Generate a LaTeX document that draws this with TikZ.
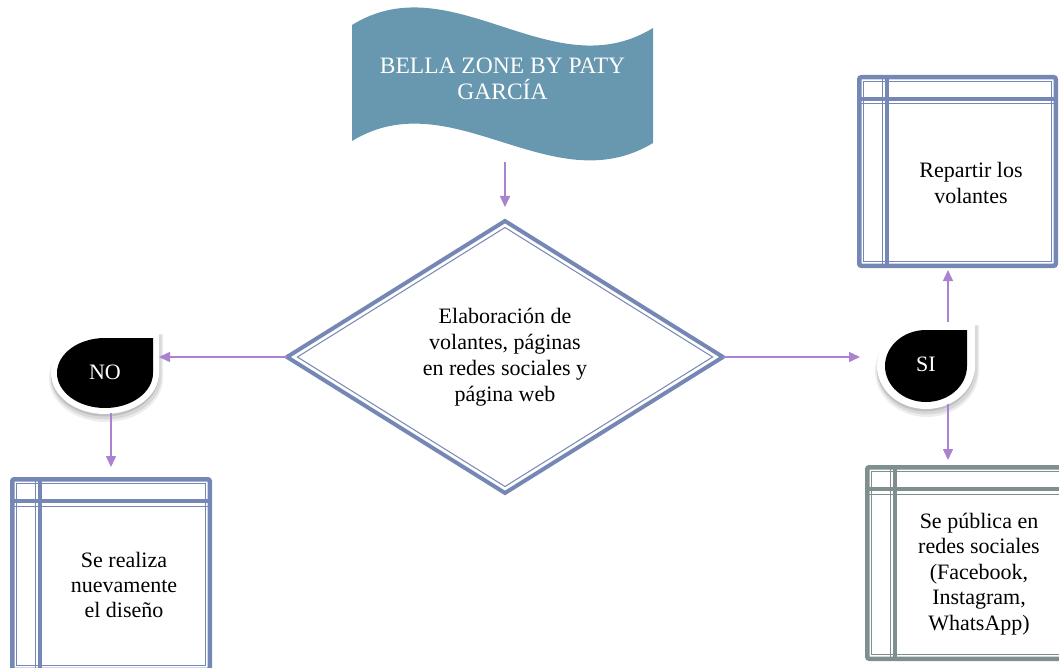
\documentclass[tikz,border=0pt]{standalone}
\usepackage{fontspec}
\setmainfont{Liberation Serif}
\usetikzlibrary{arrows.meta,calc,shapes.geometric}
\definecolor{boxblue}{RGB}{117,135,180}
\definecolor{boxgray}{RGB}{127,142,142}
\definecolor{wavecol}{RGB}{104,152,176}
\definecolor{arrcol}{RGB}{171,130,208}
\newcommand\mystorebox[2]{%
  \draw[#2, line width=4.5pt, rounded corners=2pt] ($(#1.north west)+(2.25,2.25)$) rectangle ($(#1.south east)+(-2.25,-2.25)$);
  \draw[#2, line width=1pt] ($(#1.north west)+(6.5,6.5)$) rectangle ($(#1.south east)+(-6.5,-6.5)$);
  \draw[#2, line width=1pt] ($(#1.north west)+(25,2)$) -- ($(#1.south west)+(25,-2)$);
  \draw[#2, line width=3.5pt] ($(#1.north west)+(30,2)$) -- ($(#1.south west)+(30,-2)$);
  \draw[#2, line width=3.5pt] ($(#1.north west)+(2,24)$) -- ($(#1.north east)+(-2,24)$);
  \draw[#2, line width=1pt] ($(#1.north west)+(2,29)$) -- ($(#1.north east)+(-2,29)$);
}
\begin{document}
\begin{tikzpicture}[x=1pt,y=-1pt,
  txt/.style={font=\fontsize{22pt}{26pt}\selectfont, align=center, inner sep=0pt},
  arr/.style={draw=arrcol, line width=1.5pt, -{Triangle[length=11pt,width=10pt]}},
  hidden/.style={draw=none, inner sep=0pt, outer sep=0pt, rectangle},
  tear/.style n args={4}{insert path={
    ({#1},{(#2)-(#4)}) -- ({(#1)+(#3)},{(#2)-(#4)}) -- ({(#1)+(#3)},{#2})
    .. controls ({(#1)+(#3)},{(#2)+0.5523*(#4)}) and ({(#1)+0.5523*(#3)},{(#2)+(#4)}) .. ({#1},{(#2)+(#4)})
    .. controls ({(#1)-0.5523*(#3)},{(#2)+(#4)}) and ({(#1)-(#3)},{(#2)+0.5523*(#4)}) .. ({(#1)-(#3)},{#2})
    .. controls ({(#1)-(#3)},{(#2)-0.5523*(#4)}) and ({(#1)-0.5523*(#3)},{(#2)-(#4)}) .. ({#1},{(#2)-(#4)}) -- cycle}}
]
\useasboundingbox (0,0) rectangle (1059,668);
\clip (0,0) rectangle (1059,668);

% wave banner
\fill[wavecol] (352,25) .. controls (452,-37) and (552,90) .. (653,28) -- (653,143) .. controls (552,204) and (452,80) .. (352,141) -- cycle;
\node[hidden, txt, font=\fontsize{23.5pt}{26pt}\selectfont, text=white, minimum width=301pt, minimum height=140pt] (wave) at (502.5,79) {BELLA ZONE BY PATY\\GARCÍA};

% decision diamond
\node[diamond, aspect=1.6, draw=boxblue, line width=4pt, inner sep=0pt, outer sep=0pt,
      minimum width=436pt, minimum height=272pt, txt] (dia) at (505,357)
      {Elaboración de\\volantes, páginas\\en redes sociales y\\página web};
\draw[boxblue, line width=1pt] ($(dia.west)+(10.4,0)$) -- ($(dia.north)+(0,6.5)$) -- ($(dia.east)+(-10.4,0)$) -- ($(dia.south)+(0,-6.5)$) -- cycle;

% NO teardrop
\fill[black, opacity=0.07, tear={106}{378}{57}{44}];
\fill[black, opacity=0.09, tear={106}{377}{55.5}{42.5}];
\fill[black, opacity=0.11, tear={105}{375.5}{54}{41}];
\fill[white, tear={105}{373}{54}{41}];
\fill[black, tear={105}{373}{48}{35}];
\node[hidden, txt, text=white, minimum width=108pt, minimum height=82pt] (no) at (105,372) {NO};

% SI teardrop
\fill[black, opacity=0.07, tear={927}{371}{52}{46}];
\fill[black, opacity=0.09, tear={927}{370}{50.5}{44.5}];
\fill[black, opacity=0.11, tear={926}{368.5}{49}{43}];
\fill[white, tear={926}{366}{49}{43}];
\fill[black, tear={926}{366}{41}{36}];
\node[hidden, txt, text=white, minimum width=98pt, minimum height=86pt] (si) at (926,364.5) {SI};

% storage boxes
\node[hidden, minimum width=201pt, minimum height=193pt] (b1) at (957.5,171.5) {};
\mystorebox{b1}{boxblue}
\node[txt] (b1t) at (971,183) {Repartir los\\volantes};

\node[hidden, minimum width=202pt, minimum height=195pt] (b2) at (111,574.5) {};
\mystorebox{b2}{boxblue}
\node[txt, font=\fontsize{22pt}{25pt}\selectfont] (b2t) at (124,584.5) {Se realiza\\nuevamente\\el diseño};

\node[hidden, minimum width=203pt, minimum height=196pt] (b3) at (966.5,563) {};
\mystorebox{b3}{boxgray}
\node[txt, font=\fontsize{22pt}{25.5pt}\selectfont] (b3t) at (979,574) {Se pública en\\redes sociales\\(Facebook,\\Instagram,\\WhatsApp)};

% connectors
\coordinate (sx) at (948,366);
\draw[arr, shorten <=13pt, shorten >=14pt] (wave.south -| dia.north) -- (dia.north);
\draw[arr] (dia.west) -- (no.east |- dia.west);
\draw[arr, shorten >=17pt] (dia.east) -- (si.west |- dia.east);
\draw[arr, shorten >=10pt] (no.south -| b2.north) -- (b2.north);
\draw[arr, shorten >=2pt] (si.north -| sx) -- (b1.south -| sx);
\draw[arr, shorten <=-4pt, shorten >=5pt] (si.south -| sx) -- (b3.north -| sx);
\end{tikzpicture}
\end{document}
